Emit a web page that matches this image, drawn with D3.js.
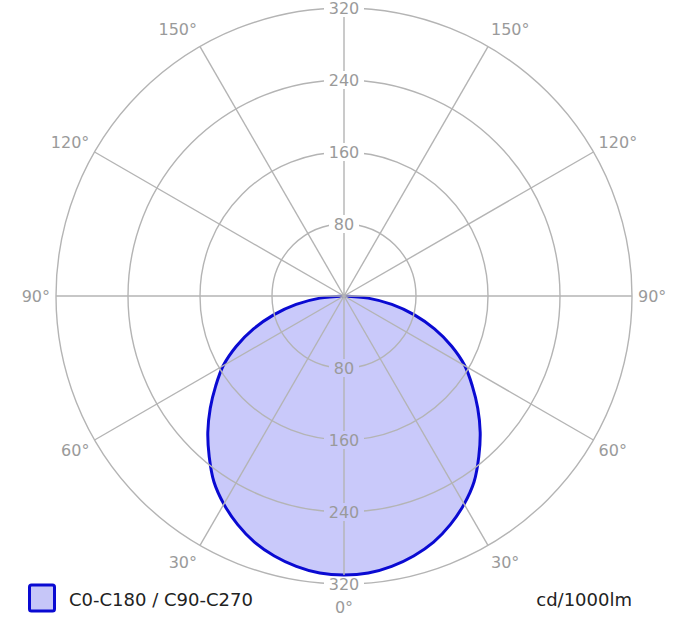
<!DOCTYPE html>
<html>
<head>
<meta charset="utf-8">
<script src="https://cdn.jsdelivr.net/npm/d3@7"></script>
<style>
  body { margin: 0; background: #fff; }
  text { font-family: "DejaVu Sans", Verdana, sans-serif; }
</style>
</head>
<body>
<div id="chart"></div>
<script>
// gamma angles (deg, 0 = straight down) and intensities in cd/1000lm
const gammaAngles = [0, 5, 10, 15, 20, 25, 30, 35, 40, 45, 50, 55, 60, 65, 70, 75, 80, 85, 90];
const intensity = [310, 309, 305, 299, 291, 280, 267, 252, 233, 214, 194, 174, 155, 132, 107, 81, 54, 27, 0];
const ringValues = [80, 160, 240, 320];
const spokeAngles = [0, 30, 60, 90, 120, 150, 180, 210, 240, 270, 300, 330];
const angleLabels = [0, 30, 60, 90, 120, 150];
const seriesName = "C0-C180 / C90-C270";
const unitLabel = "cd/1000lm";

const W = 685, H = 630;
const cx = 344, cy = 296, R = 288;
const gridColor = "#b4b4b4", labelColor = "#9a9a9a";

const svg = d3.select("#chart").append("svg")
    .attr("width", W)
    .attr("height", H);

const r = d3.scaleLinear().domain([0, 320]).range([0, R]);
const rad = d => d * Math.PI / 180;

// mask to cut gaps in the grid around the value labels
const defs = svg.append("defs");
const mask = defs.append("mask").attr("id", "gridMask");
mask.append("rect").attr("width", W).attr("height", H).attr("fill", "white");

const labelPos = [];
ringValues.forEach(v => {
  labelPos.push({v: v, y: cy - r(v)});
  labelPos.push({v: v, y: cy + r(v)});
});
labelPos.forEach(d => {
  const w = String(d.v).length * 10 + 10;
  mask.append("rect")
      .attr("x", cx - w / 2)
      .attr("y", d.y - 9)
      .attr("width", w)
      .attr("height", 18)
      .attr("fill", "black");
});

const g = svg.append("g").attr("transform", `translate(${cx},${cy})`);
const grid = svg.append("g")
    .attr("mask", "url(#gridMask)")
  .append("g")
    .attr("transform", `translate(${cx},${cy})`);

// rings
grid.selectAll("circle")
  .data(ringValues)
  .enter()
  .append("circle")
    .attr("r", d => r(d))
    .attr("fill", "none")
    .attr("stroke", gridColor)
    .attr("stroke-width", 1.4);

// spokes
grid.selectAll("line")
  .data(spokeAngles)
  .enter()
  .append("line")
    .attr("x1", 0).attr("y1", 0)
    .attr("x2", d => r(320) * Math.sin(rad(d)))
    .attr("y2", d => r(320) * Math.cos(rad(d)))
    .attr("stroke", gridColor)
    .attr("stroke-width", 1.4);

// value labels on the vertical axis
svg.append("g").selectAll("text")
  .data(labelPos)
  .enter()
  .append("text")
    .attr("x", cx)
    .attr("y", d => d.y)
    .attr("dy", "0.36em")
    .attr("text-anchor", "middle")
    .attr("font-size", 16)
    .attr("fill", labelColor)
    .text(d => d.v);

// angle labels on both sides
const angData = [];
angleLabels.forEach(a => {
  angData.push({a: a, s: -1});
  if (a !== 0) angData.push({a: a, s: 1});
});
svg.append("g").selectAll("text")
  .data(angData)
  .enter()
  .append("text")
    .attr("x", d => cx + d.s * (R + 6) * Math.sin(rad(d.a)))
    .attr("y", d => cy + (R + (d.a === 0 ? 23 : 20)) * Math.cos(rad(d.a)))
    .attr("dy", "0.36em")
    .attr("text-anchor", d => d.a === 0 ? "middle" : (d.s < 0 ? "end" : "start"))
    .attr("font-size", 16)
    .attr("fill", labelColor)
    .text(d => d.a + "°");

// intensity curve, mirrored left/right
const pts = [];
for (let i = gammaAngles.length - 1; i >= 0; i--) pts.push([Math.PI + rad(gammaAngles[i]), r(intensity[i])]);
for (let i = 1; i < gammaAngles.length; i++) pts.push([Math.PI - rad(gammaAngles[i]), r(intensity[i])]);

const line = d3.lineRadial()
    .angle(d => d[0])
    .radius(d => d[1])
    .curve(d3.curveCatmullRomClosed);

g.append("path")
    .datum(pts)
    .attr("d", line)
    .attr("fill", "rgba(40,40,235,0.25)")
    .attr("stroke", "#0a0ad2")
    .attr("stroke-width", 3)
    .attr("stroke-linejoin", "round");

// legend
svg.append("rect")
    .attr("x", 29.5).attr("y", 585)
    .attr("width", 25).attr("height", 26)
    .attr("rx", 2)
    .attr("fill", "#c6c6f8")
    .attr("stroke", "#0a0ad2")
    .attr("stroke-width", 3);
svg.append("text")
    .attr("x", 69).attr("y", 606)
    .attr("font-size", 18)
    .attr("fill", "#222")
    .text(seriesName);
svg.append("text")
    .attr("x", 632).attr("y", 606)
    .attr("text-anchor", "end")
    .attr("font-size", 18)
    .attr("fill", "#222")
    .text(unitLabel);
</script>
</body>
</html>
